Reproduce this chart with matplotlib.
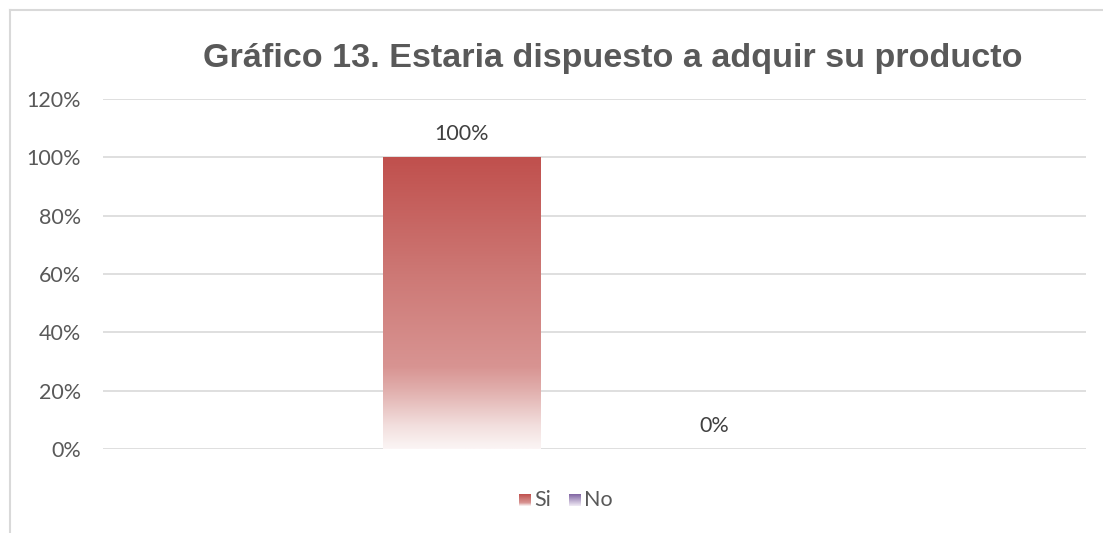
import numpy as np
import matplotlib.pyplot as plt
from matplotlib.colors import LinearSegmentedColormap
from matplotlib.patches import Rectangle
from matplotlib.lines import Line2D

series = ["Si", "No"]
values = [1.0, 0.0]
yticks = [0, 0.2, 0.4, 0.6, 0.8, 1.0, 1.2]
ytick_labels = ["0%", "20%", "40%", "60%", "80%", "100%", "120%"]
title = "Gráfico 13. Estaria dispuesto a adquir su producto"

W, H = 1103, 533
fig = plt.figure(figsize=(W / 100, H / 100), dpi=100)

# chart border (left + top only visible)
fig.add_artist(Line2D([9.5 / W, 9.5 / W], [0, 1 - 9.5 / H], color="#D9D9D9", lw=1.5))
fig.add_artist(Line2D([9.5 / W, 1], [1 - 9.5 / H, 1 - 9.5 / H], color="#D9D9D9", lw=1.5))

x0, x1 = 103, 1086
y0, y1 = 449, 99
ax = fig.add_axes([x0 / W, 1 - y0 / H, (x1 - x0) / W, (y0 - y1) / H])
ax.set_xlim(0, 1)
ax.set_ylim(0, 1.2)

grey = "#595959"
fs = 15.5
for t in yticks:
    ax.axhline(t, color="#D9D9D9", lw=1.2, zorder=0)
ax.set_yticks(yticks)
ax.set_yticklabels(ytick_labels, family="Lato", fontsize=fs, color=grey)
ax.tick_params(axis="y", length=0, pad=16)
ax.set_xticks([])
for s in ax.spines.values():
    s.set_visible(False)

reds = LinearSegmentedColormap.from_list("reds", [
    (0.0, (251/255, 245/255, 245/255)),
    (0.08, (242/255, 222/255, 221/255)),
    (0.2, (225/255, 175/255, 173/255)),
    (0.28, (216/255, 148/255, 146/255)),
    (0.6, (205/255, 120/255, 117/255)),
    (1.0, (192/255, 80/255, 77/255)),
])
purples = LinearSegmentedColormap.from_list("purples", [
    (0.0, (240/255, 235/255, 245/255)),
    (1.0, (128/255, 100/255, 162/255)),
])
cmaps = [reds, purples]
centers = [0.3646, 0.622]
width = 0.16

grad = np.linspace(0, 1, 256).reshape(-1, 1)
for c, v, cm in zip(centers, values, cmaps):
    left = c - width / 2
    if v > 0:
        im = ax.imshow(grad, cmap=cm, origin="lower", aspect="auto",
                       extent=[left, left + width, 0, v], zorder=2)
        rect = Rectangle((left, 0), width, v, transform=ax.transData)
        im.set_clip_path(rect)
    ax.text(c, v + 0.045, f"{v:.0%}", ha="center", va="bottom",
            family="Lato", fontsize=fs, color="#404040")
ax.set_xlim(0, 1)
ax.set_ylim(0, 1.2)

fig.text(613 / W, 1 - 58 / H, title, ha="center", va="center",
         family="Liberation Sans", fontweight="bold", fontsize=24.6, color=grey)

# legend
leg_y = 1 - 500 / H
for (lx, name, cm) in [(519, "Si", reds), (569, "No", purples)]:
    lax = fig.add_axes([lx / W, leg_y - 6 / H, 12 / W, 12 / H])
    lax.imshow(grad, cmap=cm, origin="lower", aspect="auto", extent=[0, 1, 0, 1])
    lax.axis("off")
    fig.text((lx + 15) / W, leg_y, name, ha="left", va="center",
             family="Lato", fontsize=fs, color=grey)

fig.savefig("out.png", dpi=100)
